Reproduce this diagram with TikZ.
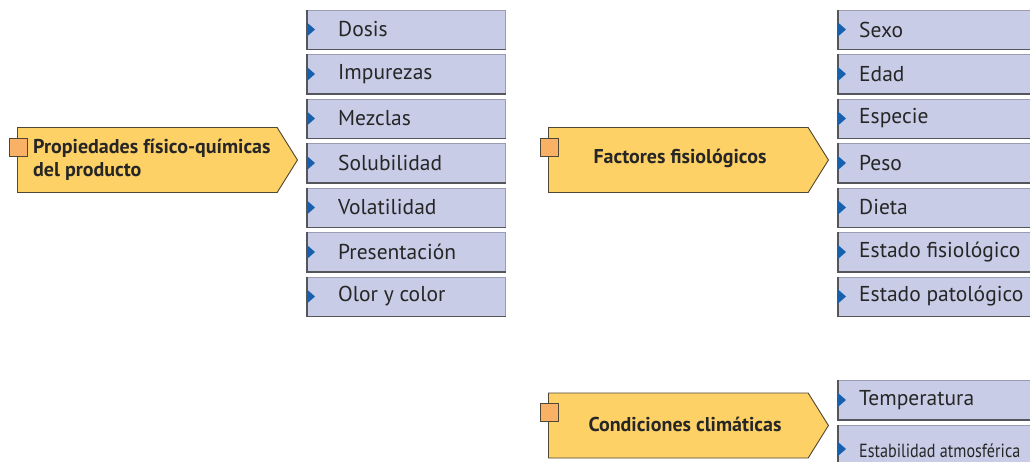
\documentclass[tikz,border=0pt]{standalone}
\usepackage{fontspec}
\setmainfont{PT Sans}
\usetikzlibrary{shapes.symbols}

\definecolor{tagfill}{HTML}{FDD165}
\definecolor{tagline}{HTML}{4F4634}
\definecolor{sqfill}{HTML}{F8B165}
\definecolor{itemfill}{HTML}{C8CCE6}
\definecolor{itemline}{HTML}{9A9DB2}
\definecolor{itemdark}{HTML}{55555C}
\definecolor{tipblue}{HTML}{1660AE}

\begin{document}
\begin{tikzpicture}[x=1pt,y=-1pt,
    tag/.style={signal, signal to=east, signal pointer angle=116, draw=tagline,
        fill=tagfill, line width=0.9pt, minimum width=280pt, minimum height=65pt,
        inner sep=0pt, anchor=west},
    sqbox/.style={draw=tagline, fill=sqfill, line width=0.9pt, minimum size=18pt,
        inner sep=0pt},
    tagtext/.style={font=\fontsize{20}{23}\selectfont\bfseries, text=black!85,
        align=left, inner sep=0pt},
    item/.style={draw=itemline, fill=itemfill, line width=1pt, minimum height=39pt,
        inner sep=0pt, anchor=west},
    itemtext/.style={font=\fontsize{21.5}{24}\selectfont, text=black!85, anchor=west,
        inner sep=0pt}]

\useasboundingbox (0,0) rectangle (1030,461);
\clip (0,0) rectangle (1030,461);

% yellow headings
\node[tag] (t1) at (17,160) {};
\node[tag] (t2) at (548,160) {};
\node[tag] (t3) at (548,425.5) {};

\foreach \i in {1,2,3}
    \node[sqbox] (s\i) at ([xshift=1pt,yshift=13pt]t\i.west) {};

\node[tagtext, anchor=west] (h1) at (33,160) {Propiedades físico-químicas\\del producto};
\node[tagtext] (h2) at (680,158) {Factores fisiológicos};
\node[tagtext] (h3) at (685,424) {Condiciones climáticas};

% left list
\foreach \txt [count=\i] in {Dosis,Impurezas,Mezclas,Solubilidad,Volatilidad,Presentación,Olor y color} {
    \node[item, minimum width=198pt] (p\i) at (307,{29.5+44.5*(\i-1)}) {};
    \draw[itemdark, line width=1.2pt] (p\i.north west) -- (p\i.south west) -- (p\i.south east);
    \fill[tipblue] ([yshift=7pt]p\i.west) -- ([xshift=8pt]p\i.west) -- ([yshift=-7pt]p\i.west) -- cycle;
    \node[itemtext] (pt\i) at ([xshift=31pt]p\i.west) {\txt};
}

% right list
\foreach \txt [count=\i] in {Sexo,Edad,Especie,Peso,Dieta,Estado fisiológico,Estado patológico} {
    \node[item, minimum width=220pt] (f\i) at (838,{29.5+44.5*(\i-1)}) {};
    \draw[itemdark, line width=1.2pt] (f\i.north west) -- (f\i.south west) -- (f\i.south east);
    \fill[tipblue] ([yshift=7pt]f\i.west) -- ([xshift=8pt]f\i.west) -- ([yshift=-7pt]f\i.west) -- cycle;
    \node[itemtext] (ft\i) at ([xshift=21pt]f\i.west) {\txt};
}

% climate list
\node[item, minimum width=220pt] (c1) at (838,400) {};
\node[item, minimum width=220pt, minimum height=48pt] (c2) at (838,449) {};
\foreach \i in {1,2} {
    \draw[itemdark, line width=1.2pt] (c\i.north west) -- (c\i.south west) -- (c\i.south east);
    \fill[tipblue] ([yshift=7pt]c\i.west) -- ([xshift=8pt]c\i.west) -- ([yshift=-7pt]c\i.west) -- cycle;
}
\node[itemtext] (ct1) at ([xshift=21pt]c1.west) {Temperatura};
\node[itemtext, anchor=base west] (ct2) at ([xshift=21pt,yshift=-8pt]c2.west)
    {\fontsize{19}{21}\selectfont\addfontfeature{FakeStretch=0.85}Estabilidad atmosférica};

\end{tikzpicture}
\end{document}
